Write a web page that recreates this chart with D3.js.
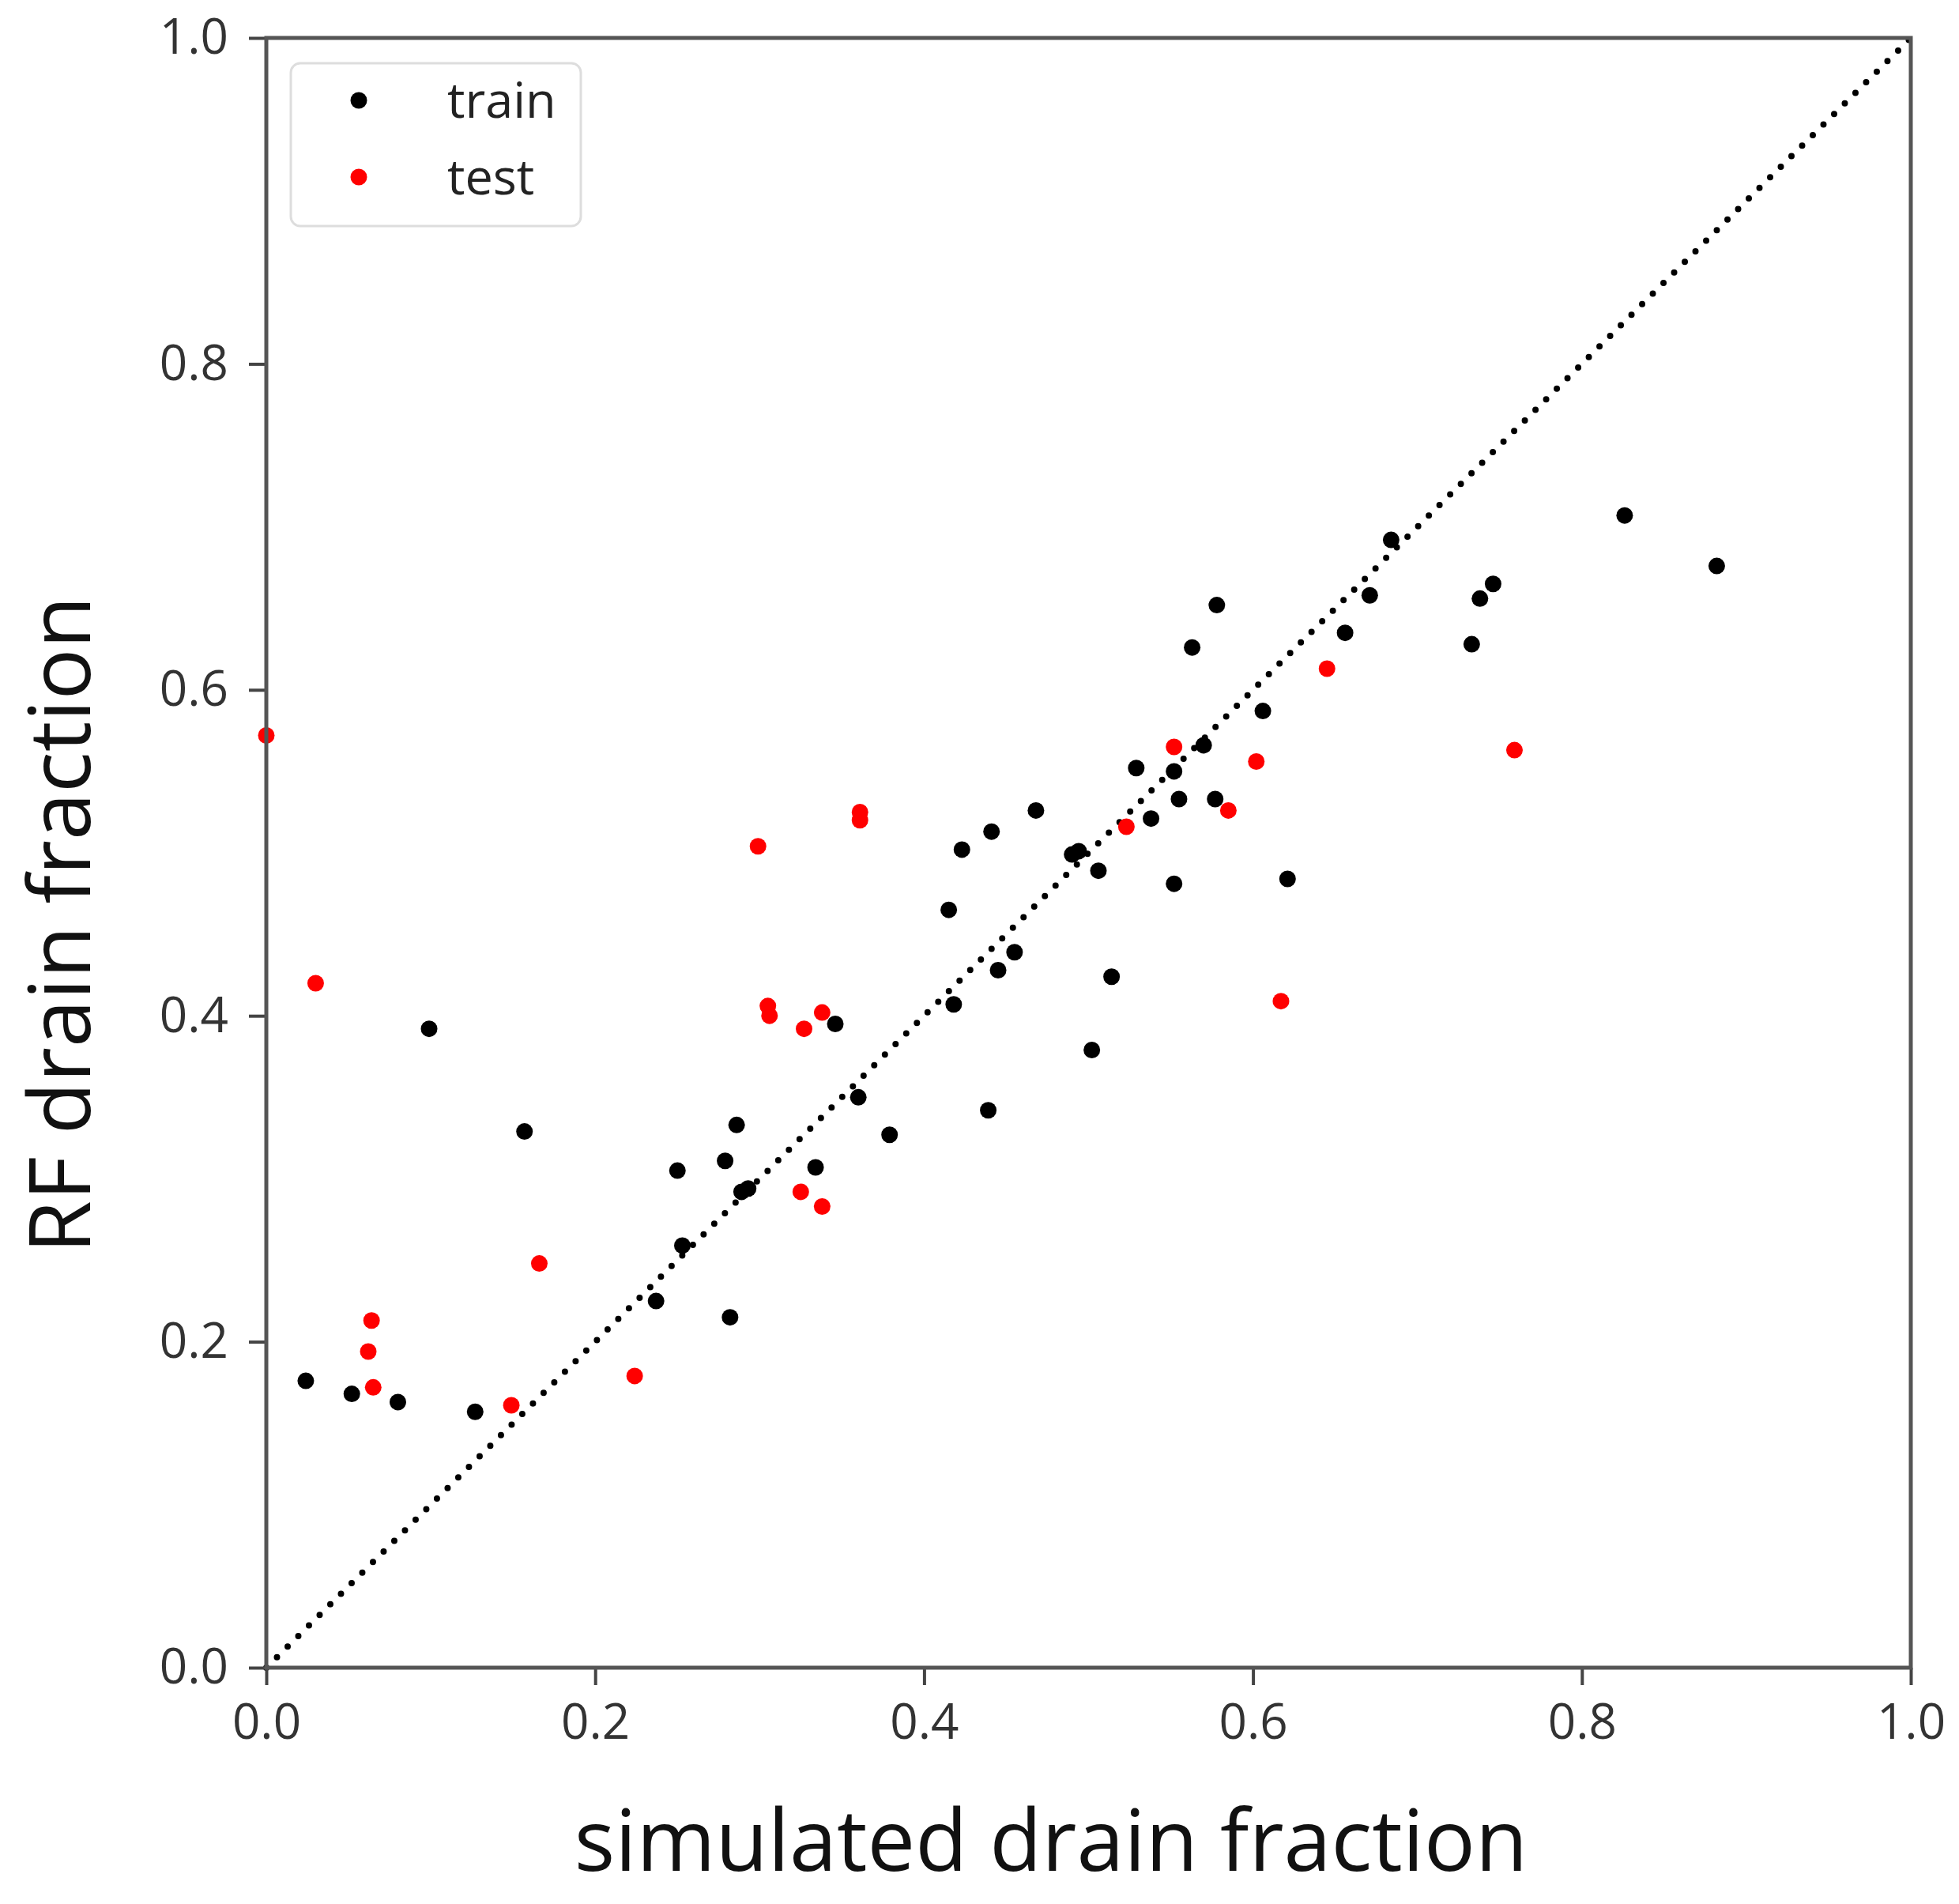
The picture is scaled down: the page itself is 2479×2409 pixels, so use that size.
<!DOCTYPE html>
<html>
<head>
<meta charset="utf-8">
<script src="https://cdn.jsdelivr.net/npm/d3@7"></script>
<style>
  html, body { margin: 0; padding: 0; background: #fff; }
  svg { display: block; font-family: "Open Sans", sans-serif; }
</style>
</head>
<body>
<div id="chart"></div>
<script>
// simulated vs RF-predicted drain fraction
const trainX = [0.024, 0.052, 0.080, 0.127, 0.099, 0.157, 0.250, 0.253, 0.237, 0.282,
  0.279, 0.286, 0.289, 0.293, 0.334, 0.346, 0.360, 0.379, 0.415, 0.418,
  0.423, 0.441, 0.439, 0.445, 0.455, 0.468, 0.490, 0.494, 0.506, 0.502,
  0.514, 0.529, 0.538, 0.552, 0.552, 0.555, 0.563, 0.570, 0.577, 0.578,
  0.606, 0.621, 0.656, 0.671, 0.684, 0.733, 0.738, 0.746, 0.826, 0.882];
const trainY = [0.176, 0.168, 0.163, 0.157, 0.392, 0.329, 0.305, 0.259, 0.225, 0.215,
  0.311, 0.333, 0.292, 0.294, 0.307, 0.395, 0.350, 0.327, 0.465, 0.407,
  0.502, 0.513, 0.342, 0.428, 0.439, 0.526, 0.499, 0.501, 0.489, 0.379,
  0.424, 0.552, 0.521, 0.481, 0.550, 0.533, 0.626, 0.566, 0.533, 0.652,
  0.587, 0.484, 0.635, 0.658, 0.692, 0.628, 0.656, 0.665, 0.707, 0.676];

const testX = [0.000, 0.030, 0.064, 0.062, 0.065, 0.149, 0.166, 0.224, 0.299, 0.305,
  0.306, 0.327, 0.325, 0.338, 0.338, 0.361, 0.361, 0.523, 0.552, 0.585,
  0.602, 0.617, 0.645, 0.759];
const testY = [0.572, 0.420, 0.213, 0.194, 0.172, 0.161, 0.248, 0.179, 0.504, 0.406,
  0.400, 0.392, 0.292, 0.402, 0.283, 0.525, 0.520, 0.516, 0.565, 0.526,
  0.556, 0.409, 0.613, 0.563];

const ticks = [0.0, 0.2, 0.4, 0.6, 0.8, 1.0];
const seriesNames = ["train", "test"];
const seriesColors = ["#000000", "#ff0000"];

const W = 2479, H = 2409;
const margin = { left: 337, right: 61, top: 48, bottom: 299 };
const innerW = W - margin.left - margin.right;
const innerH = H - margin.top - margin.bottom;

const x = d3.scaleLinear().domain([0, 1]).range([0, innerW]);
const y = d3.scaleLinear().domain([0, 1]).range([innerH, 0]);

const svg = d3.select("#chart").append("svg")
  .attr("width", W).attr("height", H);

const g = svg.append("g")
  .attr("transform", `translate(${margin.left},${margin.top})`);

// 1:1 line
g.append("line")
  .attr("x1", x(0)).attr("y1", y(0))
  .attr("x2", x(1)).attr("y2", y(1))
  .attr("stroke", "#000")
  .attr("stroke-width", 8)
  .attr("stroke-linecap", "round")
  .attr("stroke-dasharray", "0 19");

const series = [
  { name: seriesNames[0], color: seriesColors[0], xs: trainX, ys: trainY },
  { name: seriesNames[1], color: seriesColors[1], xs: testX, ys: testY }
];

series.forEach(s => {
  g.append("g").selectAll("circle")
    .data(s.xs.map((v, i) => [v, s.ys[i]]))
    .join("circle")
    .attr("cx", d => x(d[0]))
    .attr("cy", d => y(d[1]))
    .attr("r", 10.5)
    .attr("fill", s.color);
});

// axes
const fmt = d3.format(".1f");
const xAxis = g.append("g")
  .attr("transform", `translate(0,${innerH})`)
  .call(d3.axisBottom(x).tickValues(ticks).tickFormat(fmt).tickSize(22).tickPadding(24).tickSizeOuter(0));
const yAxis = g.append("g")
  .call(d3.axisLeft(y).tickValues(ticks).tickFormat(fmt).tickSize(22).tickPadding(26).tickSizeOuter(0));

[xAxis, yAxis].forEach(a => {
  a.select(".domain").remove();
  a.selectAll(".tick line").attr("stroke", "#444").attr("stroke-width", 4);
  a.selectAll(".tick text")
    .attr("fill", "#333")
    .style("font-family", "'Open Sans', sans-serif")
    .style("font-size", "62px");
});

// frame
g.append("rect")
  .attr("x", 0).attr("y", 0)
  .attr("width", innerW).attr("height", innerH)
  .attr("fill", "none")
  .attr("stroke", "#555")
  .attr("stroke-width", 5);

// axis labels
svg.append("text")
  .attr("x", 1330).attr("y", 2367)
  .attr("text-anchor", "middle")
  .attr("fill", "#111")
  .style("font-size", "108px")
  .text("simulated drain fraction");

svg.append("text")
  .attr("transform", "translate(114,1170) rotate(-90)")
  .attr("text-anchor", "middle")
  .attr("fill", "#111")
  .style("font-size", "108px")
  .text("RF drain fraction");

// legend
const legend = svg.append("g").attr("transform", "translate(368,80)");
legend.append("rect")
  .attr("width", 367).attr("height", 206)
  .attr("rx", 12)
  .attr("fill", "#fff")
  .attr("stroke", "#ddd")
  .attr("stroke-width", 3);

series.forEach((s, i) => {
  const row = legend.append("g").attr("transform", `translate(0,${47 + i * 97})`);
  row.append("circle")
    .attr("cx", 86).attr("cy", 0).attr("r", 10.5)
    .attr("fill", s.color);
  row.append("text")
    .attr("x", 198).attr("y", 0)
    .attr("dy", "0.35em")
    .attr("fill", "#222")
    .style("font-size", "63px")
    .text(s.name);
});
</script>
</body>
</html>
